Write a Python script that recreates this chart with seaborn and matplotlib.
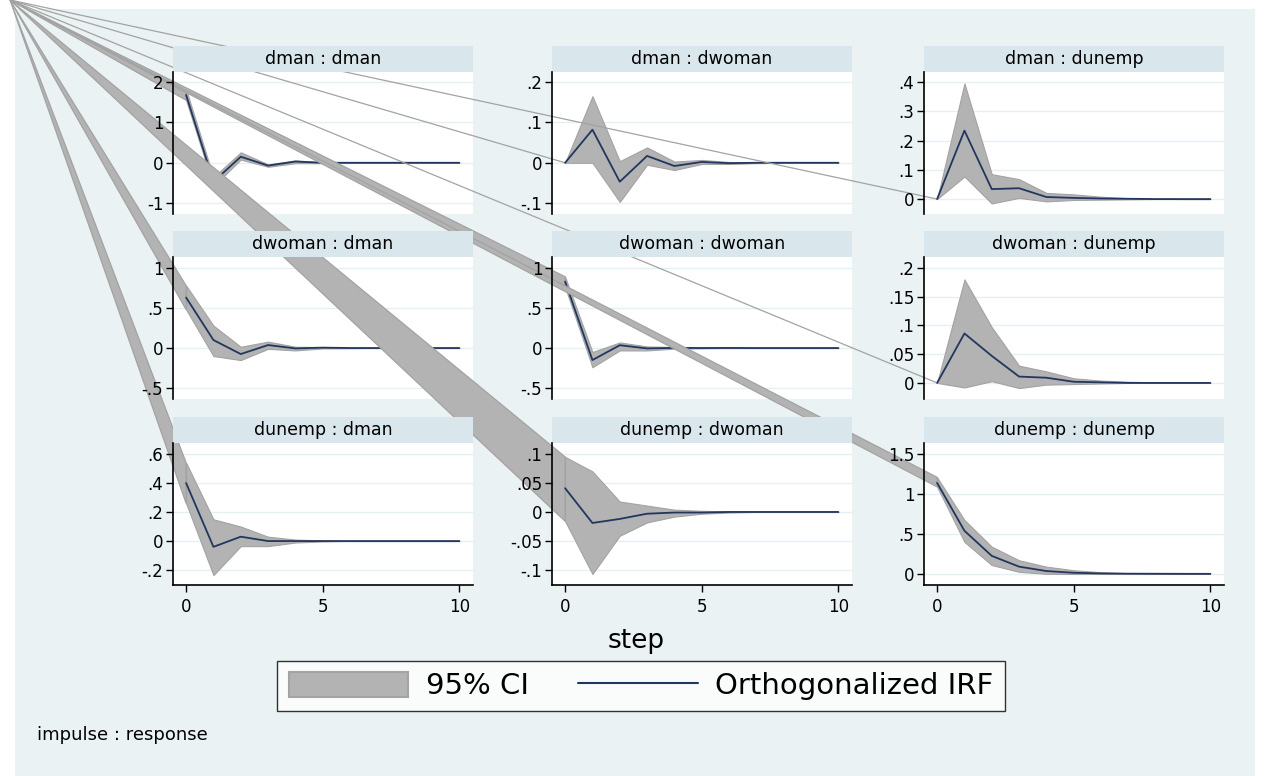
import matplotlib
matplotlib.use("Agg")
import matplotlib.pyplot as plt
from matplotlib.patches import Rectangle, Polygon, Patch
from matplotlib.lines import Line2D
import seaborn as sns

# --- data ---
steps = list(range(11))

dman_dman_irf = [1.68, -0.47, 0.15, -0.07, 0.03, 0.0, 0, 0, 0, 0, 0]
dman_dman_lo = [1.55, -0.58, 0.08, -0.10, -0.01, -0.01, 0, 0, 0, 0, 0]
dman_dman_hi = [1.82, -0.36, 0.26, -0.04, 0.06, 0.01, 0, 0, 0, 0, 0]

dman_dwoman_irf = [0, 0.082, -0.047, 0.017, -0.008, 0.002, -0.001, 0, 0, 0, 0]
dman_dwoman_lo = [0, 0.0, -0.097, -0.005, -0.018, -0.003, -0.003, -0.001, 0, 0, 0]
dman_dwoman_hi = [0, 0.165, 0.004, 0.038, 0.003, 0.007, 0.002, 0.001, 0, 0, 0]

dman_dunemp_irf = [0, 0.234, 0.034, 0.037, 0.007, 0.004, 0.002, 0.001, 0, 0, 0]
dman_dunemp_lo = [0, 0.077, -0.015, 0.004, -0.008, -0.003, -0.002, -0.001, 0, 0, 0]
dman_dunemp_hi = [0, 0.395, 0.085, 0.068, 0.021, 0.016, 0.008, 0.003, 0.001, 0, 0]

dwoman_dman_irf = [0.63, 0.10, -0.075, 0.037, -0.005, 0.005, 0, 0, 0, 0, 0]
dwoman_dman_lo = [0.48, -0.10, -0.15, -0.01, -0.03, -0.005, -0.003, 0, 0, 0, 0]
dwoman_dman_hi = [0.78, 0.28, 0.016, 0.08, 0.016, 0.012, 0.004, 0, 0, 0, 0]

dwoman_dwoman_irf = [0.83, -0.15, 0.035, -0.005, 0.002, 0.0, 0.001, 0, 0, 0, 0]
dwoman_dwoman_lo = [0.76, -0.24, -0.03, -0.03, -0.008, -0.004, 0, 0, 0, 0, 0]
dwoman_dwoman_hi = [0.89, -0.05, 0.07, 0.02, 0.012, 0.005, 0, 0, 0, 0, 0]

dwoman_dunemp_irf = [0, 0.086, 0.047, 0.011, 0.009, 0.002, 0.001, 0, 0, 0, 0]
dwoman_dunemp_lo = [0, -0.008, 0.003, -0.009, -0.003, -0.002, -0.001, 0, 0, 0, 0]
dwoman_dunemp_hi = [0, 0.18, 0.097, 0.030, 0.020, 0.008, 0.004, 0.002, 0.001, 0, 0]

dunemp_dman_irf = [0.40, -0.04, 0.03, 0.0, 0.0, 0, 0, 0, 0, 0, 0]
dunemp_dman_lo = [0.26, -0.235, -0.035, -0.035, -0.01, -0.003, 0, 0, 0, 0, 0]
dunemp_dman_hi = [0.54, 0.15, 0.10, 0.03, 0.01, 0.004, 0, 0, 0, 0, 0]

dunemp_dwoman_irf = [0.041, -0.019, -0.012, -0.003, -0.001, -0.001, 0, 0, 0, 0, 0]
dunemp_dwoman_lo = [-0.016, -0.107, -0.041, -0.018, -0.008, -0.003, -0.001, 0, 0, 0, 0]
dunemp_dwoman_hi = [0.095, 0.07, 0.018, 0.011, 0.004, 0.002, 0.001, 0, 0, 0, 0]

dunemp_dunemp_irf = [1.14, 0.54, 0.225, 0.09, 0.035, 0.013, 0.005, 0.002, 0.001, 0, 0]
dunemp_dunemp_lo = [1.09, 0.40, 0.11, 0.025, 0.0, -0.002, -0.001, 0, 0, 0, 0]
dunemp_dunemp_hi = [1.21, 0.675, 0.34, 0.17, 0.09, 0.045, 0.02, 0.008, 0.003, 0.001, 0]

titles = ["dman : dman", "dman : dwoman", "dman : dunemp",
          "dwoman : dman", "dwoman : dwoman", "dwoman : dunemp",
          "dunemp : dman", "dunemp : dwoman", "dunemp : dunemp"]

yticks = [[-1, 0, 1, 2], [-0.1, 0, 0.1, 0.2], [0, 0.1, 0.2, 0.3, 0.4],
          [-0.5, 0, 0.5, 1], [-0.5, 0, 0.5, 1], [0, 0.05, 0.1, 0.15, 0.2],
          [-0.2, 0, 0.2, 0.4, 0.6], [-0.1, -0.05, 0, 0.05, 0.1], [0, 0.5, 1, 1.5]]

ylims = [(-1.27, 2.25), (-0.127, 0.225), (-0.051, 0.434),
         (-0.636, 1.136), (-0.636, 1.136), (-0.028, 0.219),
         (-0.303, 0.676), (-0.126, 0.119), (-0.14, 1.64)]

irfs = [dman_dman_irf, dman_dwoman_irf, dman_dunemp_irf,
        dwoman_dman_irf, dwoman_dwoman_irf, dwoman_dunemp_irf,
        dunemp_dman_irf, dunemp_dwoman_irf, dunemp_dunemp_irf]
los = [dman_dman_lo, dman_dwoman_lo, dman_dunemp_lo,
       dwoman_dman_lo, dwoman_dwoman_lo, dwoman_dunemp_lo,
       dunemp_dman_lo, dunemp_dwoman_lo, dunemp_dunemp_lo]
his = [dman_dman_hi, dman_dwoman_hi, dman_dunemp_hi,
       dwoman_dman_hi, dwoman_dwoman_hi, dwoman_dunemp_hi,
       dunemp_dman_hi, dunemp_dwoman_hi, dunemp_dunemp_hi]

# --- style ---
sns.set_style("white")
plt.rcParams['font.family'] = ['DejaVu Sans']
plt.rcParams['text.color'] = 'black'
plt.rcParams['xtick.color'] = 'black'
plt.rcParams['ytick.color'] = 'black'

BG = '#EAF2F3'
STRIP = '#D9E6EB'
NAVY = '#22365E'
CI_FILL = '#B3B3B3'
CI_EDGE = '#A3A3A3'

W, H = 1268, 776
fig = plt.figure(figsize=(W / 100, H / 100), dpi=100, facecolor='white')
fig.add_artist(Rectangle((15 / W, 0), 1240 / W, 1 - 9 / H, transform=fig.transFigure,
                         facecolor=BG, edgecolor='none', zorder=-10))

col_left = [173, 552, 924]
row_top = [72, 257, 443]
pw, ph, strip_h = 300, 142, 26
corner = (10 / W, 1.0)
xlim = (-0.48, 10.5)


def fmt(v):
    s = f"{v:g}"
    if s.startswith("0.") or s.startswith("-0."):
        s = s.replace("0.", ".", 1)
    return s


for i in range(9):
    r, c = divmod(i, 3)
    rect = [col_left[c] / W, 1 - (row_top[r] + ph) / H, pw / W, ph / H]

    # plot layer: panels stacked in order, each with its CI area and IRF line
    ax = fig.add_axes(rect, zorder=i + 1)
    ax.set_facecolor('white')
    ax.fill_between(steps, los[i], his[i], color=CI_FILL, edgecolor=CI_EDGE, lw=0.8, zorder=1)
    sns.lineplot(x=steps, y=irfs[i], ax=ax, color=NAVY, lw=1.3, zorder=3)
    ax.set_xlim(*xlim)
    ax.set_ylim(*ylims[i])
    ax.set_yticks(yticks[i])
    ax.grid(axis='y', color='#E6EFF1', lw=1)
    ax.grid(axis='x', visible=False)
    ax.tick_params(left=False, bottom=False, labelleft=False, labelbottom=False)
    ax.set_xlabel('')
    ax.set_ylabel('')
    for s in ax.spines.values():
        s.set_visible(False)

    # the CI area path starts at the graph corner in the original export
    inv = fig.transFigure.inverted()
    p_hi = inv.transform(ax.transData.transform((steps[0], his[i][0])))
    p_lo = inv.transform(ax.transData.transform((steps[0], los[i][0])))
    ax.add_artist(Polygon([corner, tuple(p_hi), tuple(p_lo)], closed=True,
                          transform=fig.transFigure, facecolor=CI_FILL,
                          edgecolor=CI_EDGE, lw=0.9, clip_on=False, zorder=2))

    # axis / title layer on top of everything
    ov = fig.add_axes(rect, zorder=30)
    ov.patch.set_alpha(0)
    ov.set_xlim(*xlim)
    ov.set_ylim(*ylims[i])
    ov.set_yticks(yticks[i])
    ov.set_yticklabels([fmt(v) for v in yticks[i]])
    ov.grid(False)
    for side in ['top', 'right']:
        ov.spines[side].set_visible(False)
    ov.spines['left'].set_color('black')
    ov.spines['left'].set_linewidth(1.2)
    ov.tick_params(axis='y', direction='out', length=5, width=1, labelsize=12, pad=2,
                   left=True, color='black', labelcolor='black')
    if r == 2:
        ov.spines['bottom'].set_color('black')
        ov.spines['bottom'].set_linewidth(1.2)
        ov.set_xticks([0, 5, 10])
        ov.set_xticklabels(['0', '5', '10'])
        ov.tick_params(axis='x', direction='out', length=5, width=1, labelsize=12, pad=4,
                       bottom=True, color='black', labelcolor='black')
    else:
        ov.spines['bottom'].set_visible(False)
        ov.tick_params(axis='x', bottom=False, labelbottom=False)

    ov.add_patch(Rectangle((0, 1), 1, strip_h / ph, transform=ov.transAxes,
                           facecolor=STRIP, edgecolor='none', clip_on=False))
    ov.text(0.5, 1 + strip_h / ph / 2, titles[i], transform=ov.transAxes,
            ha='center', va='center', fontsize=12.5, color='black')

fig.text(636 / W, 1 - 641 / H, 'step', ha='center', va='center', fontsize=19, color='black')

handles = [Patch(facecolor=CI_FILL, edgecolor=CI_EDGE, lw=1.5),
           Line2D([0], [0], color=NAVY, lw=1.5)]
leg = fig.legend(handles, ['95% CI', 'Orthogonalized IRF'], loc='center',
                 bbox_to_anchor=(641 / W, 1 - 686 / H), ncol=2, fontsize=21,
                 frameon=True, fancybox=False, edgecolor='black', facecolor='white',
                 handlelength=4.1, handleheight=0.95, handletextpad=0.6,
                 columnspacing=1.7, borderpad=0.38, borderaxespad=0, labelcolor='black')
leg.get_frame().set_linewidth(1)
leg.set_zorder(40)

fig.text(37 / W, 1 - 735 / H, 'impulse : response', ha='left', va='center',
         fontsize=13, color='black')

fig.savefig('out.png', dpi=100, facecolor=fig.get_facecolor())
